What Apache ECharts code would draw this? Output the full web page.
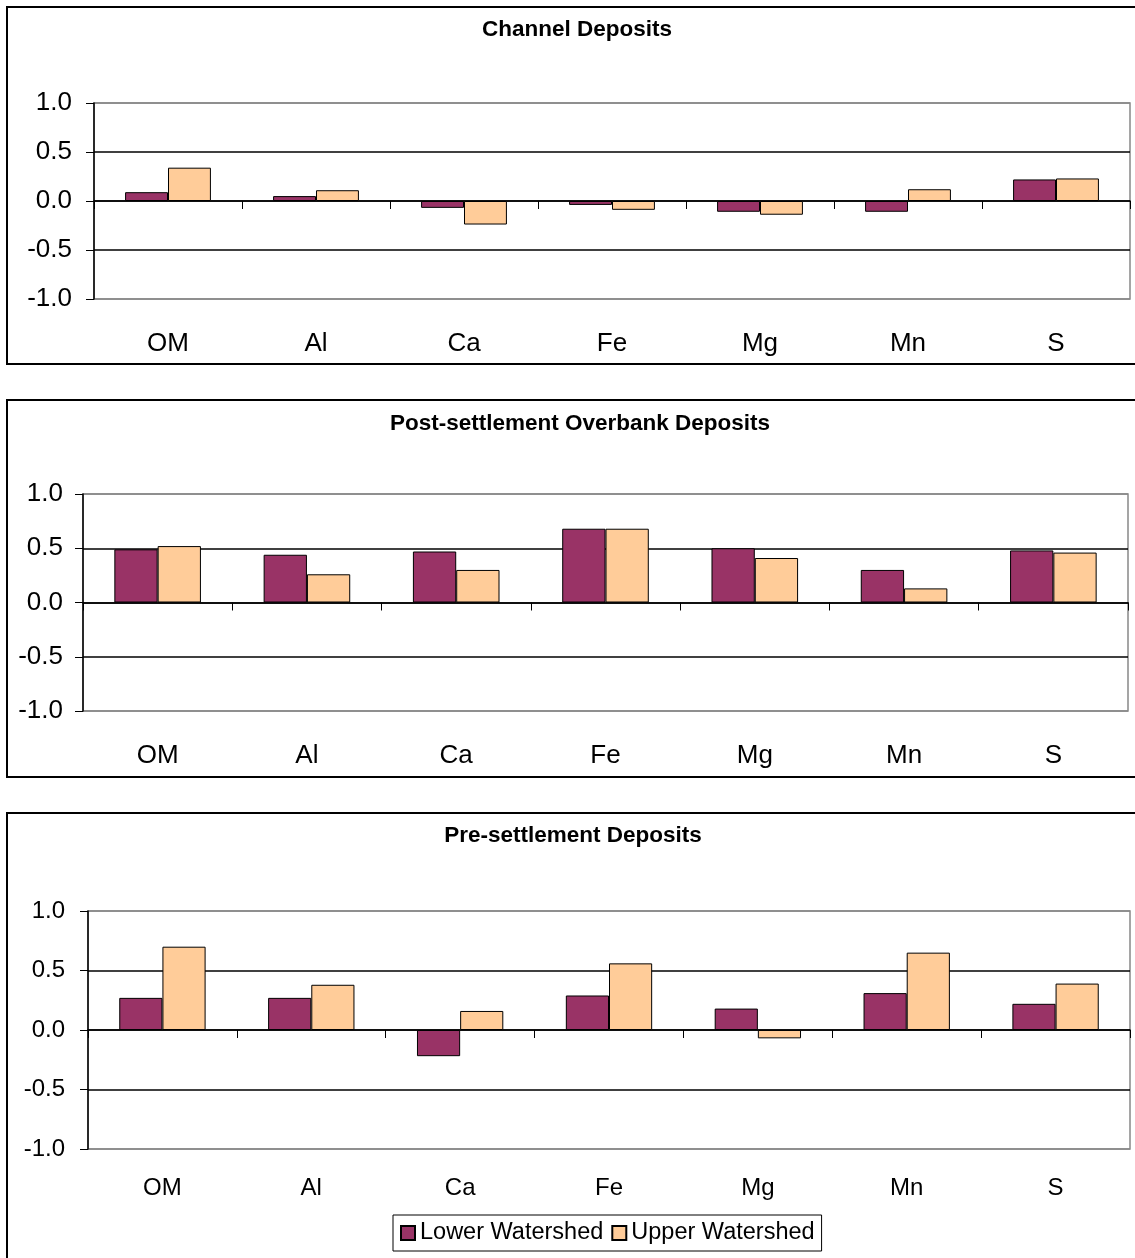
<!DOCTYPE html>
<html>
<head>
<meta charset="utf-8">
<script src="https://cdn.jsdelivr.net/npm/echarts@6/dist/echarts.min.js"></script>
<style>
html,body{margin:0;padding:0;background:#fff;}
#chart{width:1135px;height:1258px;}
</style>
</head>
<body>
<div id="chart"></div>
<script>
var categories = ['OM', 'Al', 'Ca', 'Fe', 'Mg', 'Mn', 'S'];
var seriesNames = ['Lower Watershed', 'Upper Watershed'];
var titles = ['Channel Deposits', 'Post-settlement Overbank Deposits', 'Pre-settlement Deposits'];

var channelLower = [0.09, 0.05, -0.07, -0.04, -0.11, -0.11, 0.22];
var channelUpper = [0.34, 0.11, -0.24, -0.09, -0.14, 0.12, 0.23];
var postLower = [0.49, 0.44, 0.47, 0.68, 0.50, 0.30, 0.48];
var postUpper = [0.52, 0.26, 0.30, 0.68, 0.41, 0.13, 0.46];
var preLower = [0.27, 0.27, -0.22, 0.29, 0.18, 0.31, 0.22];
var preUpper = [0.70, 0.38, 0.16, 0.56, -0.07, 0.65, 0.39];

var yMin = -1.0, yMax = 1.0, yInterval = 0.5;

var FONT = '"Liberation Sans", Arial, sans-serif';
var LOWER_COLOR = '#993366';
var UPPER_COLOR = '#FFCC99';

var panels = [
  {lower: channelLower, upper: channelUpper, grid: {left: 94, top: 103, right: 5, height: 196}, title: {x: 572, y: 13},
   yFont: 26, yMargin: 22, xFont: 26, xMargin: 32},
  {lower: postLower, upper: postUpper, grid: {left: 83, top: 494, right: 7, height: 217}, title: {x: 575, y: 407},
   yFont: 26, yMargin: 20, xFont: 26, xMargin: 32},
  {lower: preLower, upper: preUpper, grid: {left: 88, top: 911, right: 5, height: 238}, title: {x: 568, y: 819},
   yFont: 24, yMargin: 23, xFont: 24, xMargin: 27}
];

var option = {
  animation: false,
  backgroundColor: '#fff',
  textStyle: {fontFamily: FONT, color: '#000'},
  title: [], grid: [], xAxis: [], yAxis: [], series: [],
  legend: {
    data: seriesNames,
    left: 393, top: 1215,
    orient: 'horizontal',
    icon: 'rect',
    itemWidth: 14, itemHeight: 14, itemGap: 8,
    padding: [6, 7, 6, 7],
    borderColor: '#000', borderWidth: 1,
    textStyle: {fontFamily: FONT, fontSize: 23.5, color: '#000', padding: [0, 0, 0, 0]}
  },
  graphic: [
    {type: 'rect', shape: {x: 7, y: 7, width: 1145, height: 357}, style: {fill: 'none', stroke: '#000', lineWidth: 2}, silent: true},
    {type: 'rect', shape: {x: 7, y: 400, width: 1145, height: 377}, style: {fill: 'none', stroke: '#000', lineWidth: 2}, silent: true},
    {type: 'rect', shape: {x: 7, y: 813, width: 1145, height: 460}, style: {fill: 'none', stroke: '#000', lineWidth: 2}, silent: true}
  ]
};

panels.forEach(function (p, i) {
  option.title.push({
    text: titles[i], left: p.title.x, top: p.title.y, textAlign: 'center',
    textStyle: {fontFamily: FONT, fontSize: 22.5, fontWeight: 'bold', color: '#000'}
  });
  option.grid.push({
    left: p.grid.left, top: p.grid.top, right: p.grid.right, height: p.grid.height,
    show: true, borderColor: '#888', borderWidth: 1.5, backgroundColor: '#fff'
  });
  // zero-line category axis with ticks
  option.xAxis.push({
    type: 'category', gridIndex: i, data: categories,
    axisLine: {show: true, onZero: true, lineStyle: {color: '#000', width: 1.5}},
    axisTick: {show: true, length: 8, lineStyle: {color: '#000'}},
    axisLabel: {show: false}, splitLine: {show: false}
  });
  // label axis at the bottom
  option.xAxis.push({
    type: 'category', gridIndex: i, data: categories, position: 'bottom',
    axisLine: {show: false, onZero: false}, axisTick: {show: false},
    axisLabel: {show: true, fontFamily: FONT, fontSize: p.xFont, color: '#000', margin: p.xMargin},
    splitLine: {show: false}
  });
  option.yAxis.push({
    type: 'value', gridIndex: i, min: yMin, max: yMax, interval: yInterval,
    axisLine: {show: true, lineStyle: {color: '#000', width: 1.5}},
    axisTick: {show: true, length: 8, lineStyle: {color: '#000'}},
    axisLabel: {fontFamily: FONT, fontSize: p.yFont, color: '#000', margin: p.yMargin,
      formatter: function (v) { return v.toFixed(1); }},
    splitLine: {show: true, lineStyle: {color: ['#888', '#000', '#000', '#000', '#888'], width: 1.5}}
  });
  option.series.push({
    name: seriesNames[0], type: 'bar', xAxisIndex: i * 2, yAxisIndex: i, data: p.lower,
    barGap: '0%', barCategoryGap: '42%',
    itemStyle: {color: LOWER_COLOR, borderColor: '#000', borderWidth: 1}
  });
  option.series.push({
    name: seriesNames[1], type: 'bar', xAxisIndex: i * 2, yAxisIndex: i, data: p.upper,
    barGap: '0%', barCategoryGap: '42%',
    itemStyle: {color: UPPER_COLOR, borderColor: '#000', borderWidth: 1}
  });
});

var chart = echarts.init(document.getElementById('chart'), null, {renderer: 'canvas'});
chart.setOption(option);
</script>
</body>
</html>
